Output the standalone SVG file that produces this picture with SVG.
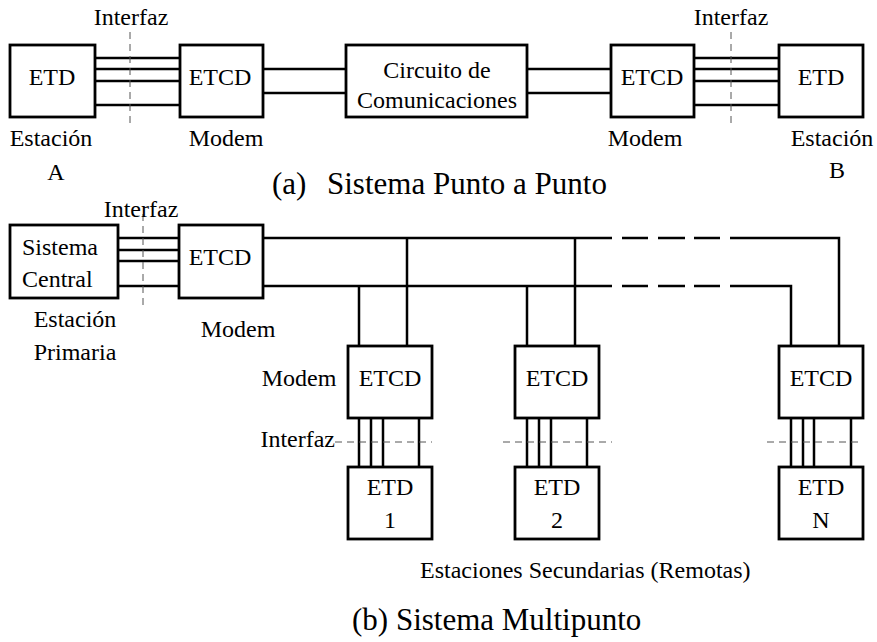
<svg xmlns="http://www.w3.org/2000/svg" width="877" height="642" viewBox="0 0 877 642" font-family="'Liberation Serif', 'DejaVu Serif', serif">
  <style>
    .box { fill: #fff; stroke: #000; stroke-width: 2.8; }
    .wire { fill: none; stroke: #000; stroke-width: 2.5; }
    .bus-dash { fill: none; stroke: #000; stroke-width: 2.5; }
    .iface { fill: none; stroke: #555; stroke-width: 1; stroke-dasharray: 7 5; }
    .t { font-family: 'Liberation Serif', 'DejaVu Serif', serif; font-size: 24px; fill: #000; }
    .c { text-anchor: middle; }
    .title { font-size: 31px; }
  </style>

  <!-- connectors -->
  <g id="connectors">
    <!-- (a) point to point -->
    <path class="wire" d="M95 58H180M95 69H180M95 81H180M95 105H180"/>
    <path class="wire" d="M263 69H346M263 93H346"/>
    <path class="wire" d="M527 69H611M527 93H611"/>
    <path class="wire" d="M694 58H779M694 69H779M694 81H779M694 105H779"/>
    <!-- (b) multipoint -->
    <path class="wire" d="M118 238H179M118 250H179M118 261H179M118 286H179"/>
    <path class="wire" d="M263 238H612M263 286H612"/>
    <path class="bus-dash" d="M622 238H648M658 238H685M694 238H720M622 286H648M658 286H685M694 286H720"/>
    <path class="wire" d="M730 238H839V346M730 286H791V346"/>
    <path class="wire" d="M407 238V346M359 286V346M575 238V346M527 286V346"/>
    <path class="wire" d="M359 418V467M371 418V467M383 418V467M419 418V467"/>
    <path class="wire" d="M527 418V467M539 418V467M551 418V467M587 418V469"/>
    <path class="wire" d="M791 418V467M803 418V467M814 418V467M851 418V473"/>
  </g>

  <!-- interface boundaries -->
  <g id="interfaces">
    <path class="iface" d="M130 32V128"/>
    <path class="iface" d="M731 32V128"/>
    <path class="iface" d="M143 214V310"/>
    <path class="iface" d="M335 442H432"/>
    <path class="iface" d="M503 442H612"/>
    <path class="iface" d="M767 442H863"/>
  </g>

  <!-- (a) nodes -->
  <g id="etd-a">
    <rect class="box" x="10" y="45" width="85" height="72"/>
    <text class="t c" x="52" y="85">ETD</text>
  </g>
  <g id="etcd-a">
    <rect class="box" x="180" y="45" width="83" height="72"/>
    <text class="t c" x="220" y="85">ETCD</text>
  </g>
  <g id="circuito">
    <rect class="box" x="346" y="45" width="181" height="72"/>
    <text class="t c" x="437" y="78">Circuito de</text>
    <text class="t c" x="437" y="108">Comunicaciones</text>
  </g>
  <g id="etcd-b">
    <rect class="box" x="611" y="45" width="83" height="72"/>
    <text class="t c" x="652" y="85">ETCD</text>
  </g>
  <g id="etd-b">
    <rect class="box" x="779" y="45" width="84" height="72"/>
    <text class="t c" x="821" y="85">ETD</text>
  </g>

  <!-- (a) labels -->
  <g id="labels-a">
    <text class="t c" x="131" y="25">Interfaz</text>
    <text class="t c" x="731" y="25">Interfaz</text>
    <text class="t c" x="51" y="146">Estación</text>
    <text class="t c" x="56" y="180">A</text>
    <text class="t c" x="226" y="146">Modem</text>
    <text class="t c" x="645" y="146">Modem</text>
    <text class="t c" x="832" y="146">Estación</text>
    <text class="t c" x="837" y="178">B</text>
    <text class="t title" x="272" y="194">(a)</text>
    <text class="t title" x="327" y="194">Sistema Punto a Punto</text>
  </g>

  <!-- (b) nodes -->
  <g id="sistema-central">
    <rect class="box" x="10" y="225" width="108" height="73"/>
    <text class="t" x="22" y="255">Sistema</text>
    <text class="t" x="22" y="287">Central</text>
  </g>
  <g id="etcd-primaria">
    <rect class="box" x="179" y="225" width="84" height="73"/>
    <text class="t c" x="220" y="265">ETCD</text>
  </g>
  <g id="etcd-1">
    <rect class="box" x="348" y="346" width="84" height="72"/>
    <text class="t c" x="390" y="386">ETCD</text>
  </g>
  <g id="etd-1">
    <rect class="box" x="348" y="467" width="84" height="72"/>
    <text class="t c" x="390" y="495">ETD</text>
    <text class="t c" x="390" y="528">1</text>
  </g>
  <g id="etcd-2">
    <rect class="box" x="515" y="346" width="84" height="72"/>
    <text class="t c" x="557" y="386">ETCD</text>
  </g>
  <g id="etd-2">
    <rect class="box" x="515" y="467" width="84" height="72"/>
    <text class="t c" x="557" y="495">ETD</text>
    <text class="t c" x="557" y="528">2</text>
  </g>
  <g id="etcd-n">
    <rect class="box" x="779" y="346" width="84" height="72"/>
    <text class="t c" x="821" y="386">ETCD</text>
  </g>
  <g id="etd-n">
    <rect class="box" x="779" y="467" width="84" height="72"/>
    <text class="t c" x="821" y="495">ETD</text>
    <text class="t c" x="821" y="528">N</text>
  </g>

  <!-- (b) labels -->
  <g id="labels-b">
    <text class="t c" x="141" y="217">Interfaz</text>
    <text class="t c" x="75" y="327">Estación</text>
    <text class="t c" x="75" y="360">Primaria</text>
    <text class="t c" x="238" y="337">Modem</text>
    <text class="t c" x="299" y="386">Modem</text>
    <text class="t" x="335" y="447" text-anchor="end">Interfaz</text>
    <text class="t" x="420" y="578">Estaciones Secundarias (Remotas)</text>
    <text class="t title" x="352" y="630">(b) Sistema Multipunto</text>
  </g>
</svg>
